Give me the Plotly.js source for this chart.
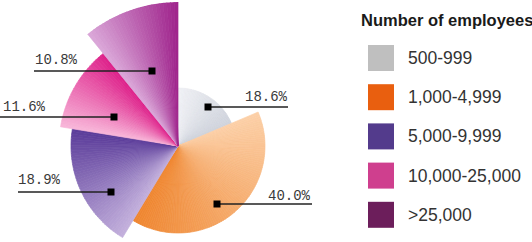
<!DOCTYPE html>
<html>
<head>
<meta charset="utf-8">
<script src="https://cdn.plot.ly/plotly-3.0.1.min.js"></script>
<style>
  html, body { margin: 0; padding: 0; overflow: hidden; background: #ffffff; }
  #chart { width: 532px; height: 300px; }
</style>
</head>
<body>
<div id="chart"></div>
<script>
// ---- data ----
const categories = ['500-999', '1,000-4,999', '5,000-9,999', '10,000-25,000', '>25,000'];
const shares = [18.6, 40.0, 18.9, 11.6, 10.8];
const shareLabels = ['18.6%', '40.0%', '18.9%', '11.6%', '10.8%'];
const sliceRadius = [58, 87, 107, 119, 144];
const legendColors = ['#bfbfbf', '#e95f0f', '#533b8c', '#cf3f8e', '#6c1e5b'];
const gradStart = ['#f0f1f5', '#fcd0a8', '#c4b1dd', '#f8b8da', '#dba9d9'];
const gradEnd = ['#cfd3dc', '#ef8630', '#5b3c9a', '#de208a', '#9f238b'];
const legendTitle = 'Number of employees';

// ---- layout helpers (pixel positions in a 532 x 300 canvas) ----
const W = 532, H = 300;
const px = x => x / W;
const py = y => 1 - y / H;

function hexToRgb(h) {
  return [parseInt(h.slice(1, 3), 16), parseInt(h.slice(3, 5), 16), parseInt(h.slice(5, 7), 16)];
}
function mix(a, b, t) {
  const A = hexToRgb(a), B = hexToRgb(b);
  return 'rgb(' + A.map((v, i) => Math.round(v + (B[i] - v) * t)).join(',') + ')';
}

const total = shares.reduce((s, v) => s + v, 0);
const theta = [], width = [], r = [], colors = [];
let start = 0;
shares.forEach((s, i) => {
  const span = s / total * 360;
  const n = Math.ceil(span / 1.5);
  const step = span / n;
  for (let k = 0; k < n; k++) {
    theta.push(start + step * (k + 0.5));
    width.push(step);
    r.push(sliceRadius[i]);
    colors.push(mix(gradStart[i], gradEnd[i], (k + 0.5) / n));
  }
  start += span;
});

const traces = [{
  type: 'barpolar',
  theta: theta,
  r: r,
  width: width,
  marker: { color: colors, line: { color: colors, width: 0.7 } },
  hoverinfo: 'skip',
  showlegend: false
}];

// label placement: [squareX, squareY, lineEndX, textX, textY, side]
const labelPos = [
  [208, 107, 288, 290, 97, 'right'],
  [217, 204, 312, 313, 196, 'right'],
  [111, 192, 18, 16, 180, 'left'],
  [114, 117, 0, 1, 107, 'left'],
  [152, 71, 34, 33, 60, 'left']
];

const shapes = [];
const annotations = [];
labelPos.forEach((p, i) => {
  shapes.push({ type: 'line', xref: 'paper', yref: 'paper',
    x0: px(p[0]), y0: py(p[1]), x1: px(p[2]), y1: py(p[1]),
    line: { color: '#222222', width: 1.4 } });
  shapes.push({ type: 'rect', xref: 'paper', yref: 'paper',
    x0: px(p[0] - 3.5), x1: px(p[0] + 3.5), y0: py(p[1] - 3.5), y1: py(p[1] + 3.5),
    fillcolor: '#000000', line: { width: 0 } });
  annotations.push({ xref: 'paper', yref: 'paper', x: px(p[3]), y: py(p[4]),
    xanchor: p[5], yanchor: 'middle', showarrow: false, text: shareLabels[i],
    font: { family: 'Liberation Mono, DejaVu Sans Mono, monospace', size: 14, color: '#3a3a3a' } });
});

// legend
annotations.push({ xref: 'paper', yref: 'paper', x: px(359), y: py(20), xanchor: 'left', yanchor: 'middle',
  showarrow: false, text: '<b>' + legendTitle + '</b>',
  font: { family: 'Liberation Sans, Arial, sans-serif', size: 16.5, color: '#1a1a1a' } });
categories.forEach((c, i) => {
  const cy = 58 + i * 39.2;
  shapes.push({ type: 'rect', xref: 'paper', yref: 'paper',
    x0: px(368), x1: px(394), y0: py(cy - 13), y1: py(cy + 13),
    fillcolor: legendColors[i], line: { width: 0 } });
  annotations.push({ xref: 'paper', yref: 'paper', x: px(406), y: py(cy), xanchor: 'left', yanchor: 'middle',
    showarrow: false, text: c,
    font: { family: 'Liberation Sans, Arial, sans-serif', size: 17.5, color: '#333333' } });
});

const layout = {
  width: W, height: H,
  margin: { l: 0, r: 0, t: 0, b: 0, pad: 0 },
  paper_bgcolor: '#ffffff',
  showlegend: false,
  polar: {
    domain: { x: [px(34), px(322)], y: [py(290), py(2)] },
    bgcolor: 'rgba(0,0,0,0)',
    bargap: 0,
    radialaxis: { range: [0, 144], visible: false, showgrid: false, showline: false, showticklabels: false, ticks: '' },
    angularaxis: { rotation: 90, direction: 'clockwise', visible: false, showgrid: false, showline: false, showticklabels: false, ticks: '' }
  },
  shapes: shapes,
  annotations: annotations
};

Plotly.newPlot('chart', traces, layout, { staticPlot: true, displayModeBar: false });
</script>
</body>
</html>
